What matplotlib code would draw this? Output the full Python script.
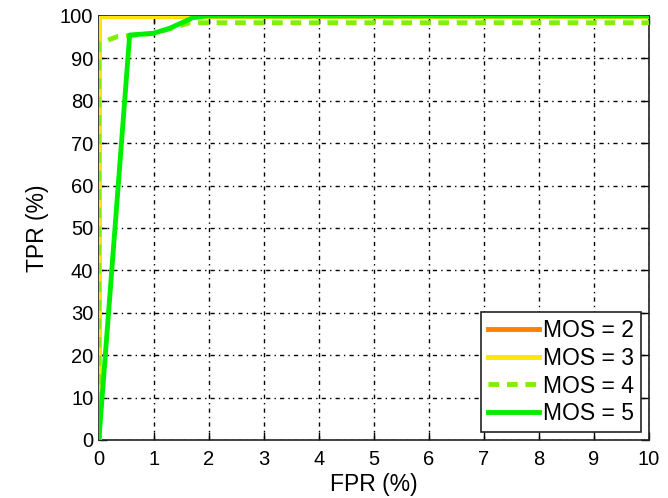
import matplotlib
matplotlib.use("Agg")
import matplotlib.pyplot as plt

plt.rcParams['font.family'] = ['Liberation Sans', 'DejaVu Sans']

# ROC curves (FPR %, TPR %) for each MOS level
fpr_mos2 = [0, 0, 10]
tpr_mos2 = [0, 100, 100]

fpr_mos3 = [0, 0, 10]
tpr_mos3 = [0, 100, 100]

fpr_mos4 = [0, 0, 0.35, 0.6, 1.0, 1.3, 1.65, 10]
tpr_mos4 = [0, 93.5, 95.2, 95.4, 95.9, 97.0, 98.4, 98.4]

fpr_mos5 = [0, 0.56, 0.99, 1.29, 1.71, 1.96, 10]
tpr_mos5 = [0, 95.5, 95.9, 97.1, 99.6, 100, 100]

x_ticks = list(range(0, 11))
y_ticks = list(range(0, 101, 10))

fig = plt.figure(figsize=(6.68, 4.98), dpi=100)
ax = fig.add_axes([0.148, 0.1165, 0.8236, 0.8515])

ax.plot(fpr_mos2, tpr_mos2, color='#FF7F00', lw=3.5, label='MOS = 2', zorder=3)
ax.plot(fpr_mos3, tpr_mos3, color='#FFE50A', lw=3.5, label='MOS = 3', zorder=4)
ax.plot(fpr_mos4, tpr_mos4, color='#80F000', lw=3.5, ls=(0, (2.2, 1.6)),
        label='MOS = 4', zorder=5)
ax.plot(fpr_mos5, tpr_mos5, color='#00EE00', lw=3.5, label='MOS = 5', zorder=6)

ax.set_xlim(0, 10)
ax.set_ylim(0, 100)
ax.set_xticks(x_ticks)
ax.set_yticks(y_ticks)
ax.tick_params(direction='in', length=6, width=1, top=True, right=True,
               labelsize=14.5, colors='black')
ax.tick_params(axis='x', pad=7)
ax.tick_params(axis='y', pad=4)
ax.grid(True, color='black', lw=1, ls=(0, (3, 3, 1, 3)))
for s in ax.spines.values():
    s.set_linewidth(1.2)
    s.set_color('#222222')

ax.set_xlabel('FPR (%)', fontsize=16.5, labelpad=3)
ax.set_ylabel('TPR (%)', fontsize=16.5, labelpad=8)

leg = ax.legend(loc='lower right', fontsize=16.5, frameon=True, fancybox=False,
                edgecolor='#222222', framealpha=1, handlelength=2.2,
                handletextpad=0.2, borderpad=0.3, labelspacing=0.2,
                borderaxespad=0.35)
leg.get_frame().set_linewidth(1.2)

fig.savefig('out.png', dpi=100)
